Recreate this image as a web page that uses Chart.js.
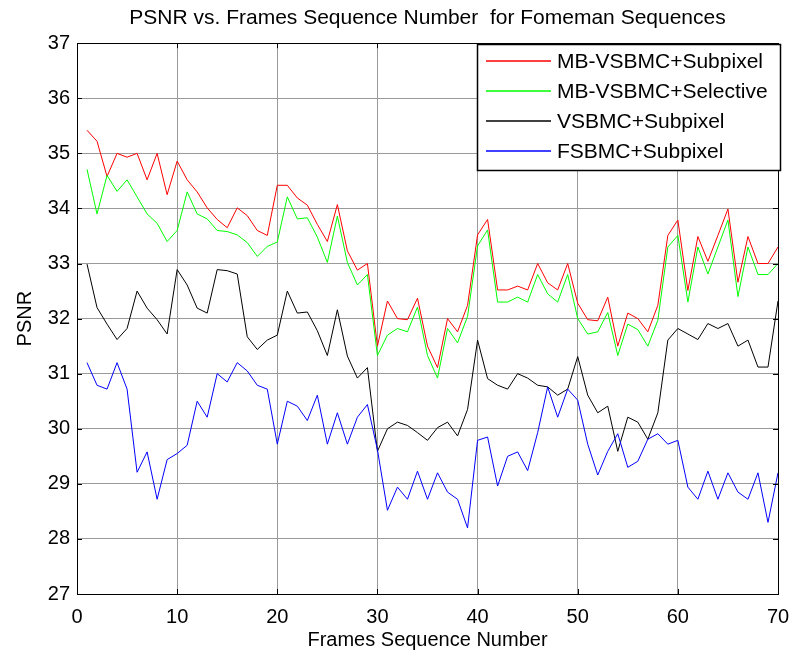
<!DOCTYPE html>
<html>
<head>
<meta charset="utf-8">
<title>PSNR vs. Frames Sequence Number</title>
<script src="https://cdn.jsdelivr.net/npm/chart.js@4.4.1/dist/chart.umd.min.js"></script>
<style>
    html, body { margin: 0; padding: 0; background: #fff; }
    #wrap { width: 794px; height: 656px; }
</style>
</head>
<body>
<div id="wrap"><canvas id="psnrChart" width="794" height="656"></canvas></div>
<script>
const frames = Array.from({ length: 70 }, (_, i) => i + 1);

const mbvsbmcSubpixel = [
    35.42, 35.22, 34.58, 35.00, 34.93, 35.00, 34.52, 35.00, 34.25, 34.86,
    34.52, 34.30, 34.01, 33.80, 33.65, 34.01, 33.87, 33.60, 33.51, 34.42,
    34.42, 34.19, 34.06, 33.71, 33.40, 34.07, 33.23, 32.88, 33.00, 31.50,
    32.32, 32.00, 31.98, 32.37, 31.50, 31.11, 32.00, 31.76, 32.24, 33.52,
    33.80, 32.52, 32.52, 32.59, 32.52, 33.00, 32.65, 32.52, 33.00, 32.28,
    31.98, 31.96, 32.39, 31.50, 32.10, 32.00, 31.76, 32.24, 33.51, 33.79,
    32.51, 33.49, 33.04, 33.51, 33.99, 32.66, 33.49, 33.00, 33.00, 33.30
];
const mbvsbmcSelective = [
    34.71, 33.90, 34.60, 34.31, 34.52, 34.21, 33.90, 33.73, 33.40, 33.60,
    34.30, 33.90, 33.81, 33.60, 33.58, 33.52, 33.38, 33.13, 33.31, 33.39,
    34.21, 33.81, 33.83, 33.48, 33.02, 33.86, 33.02, 32.61, 32.80, 31.33,
    31.70, 31.82, 31.76, 32.21, 31.33, 30.92, 31.82, 31.56, 32.04, 33.32,
    33.61, 32.30, 32.30, 32.39, 32.30, 32.80, 32.45, 32.30, 32.80, 32.00,
    31.72, 31.76, 32.11, 31.33, 31.90, 31.80, 31.50, 31.97, 33.30, 33.51,
    32.30, 33.30, 32.81, 33.30, 33.79, 32.40, 33.30, 32.80, 32.80, 33.00
];
const vsbmcSubpixel = [
    32.99, 32.20, 31.90, 31.62, 31.82, 32.50, 32.19, 31.98, 31.72, 32.89,
    32.61, 32.19, 32.10, 32.89, 32.87, 32.81, 31.67, 31.44, 31.61, 31.70,
    32.50, 32.10, 32.12, 31.78, 31.33, 32.16, 31.32, 30.92, 31.11, 29.59,
    30.00, 30.12, 30.06, 29.93, 29.79, 30.02, 30.12, 29.87, 30.35, 31.61,
    30.91, 30.79, 30.72, 31.00, 30.92, 30.79, 30.76, 30.61, 30.72, 31.31,
    30.61, 30.29, 30.41, 29.59, 30.21, 30.12, 29.81, 30.29, 31.61, 31.82,
    31.72, 31.62, 31.91, 31.82, 31.91, 31.50, 31.61, 31.12, 31.12, 32.32
];
const fsbmcSubpixel = [
    31.20, 30.79, 30.72, 31.20, 30.72, 29.21, 29.58, 28.72, 29.44, 29.55,
    29.70, 30.50, 30.21, 31.00, 30.85, 31.20, 31.05, 30.79, 30.72, 29.72,
    30.50, 30.41, 30.15, 30.61, 29.72, 30.29, 29.72, 30.21, 30.44, 29.62,
    28.52, 28.94, 28.72, 29.23, 28.72, 29.20, 28.85, 28.72, 28.20, 29.79,
    29.85, 28.96, 29.50, 29.58, 29.24, 29.93, 30.76, 30.21, 30.72, 30.52,
    29.72, 29.16, 29.59, 29.91, 29.30, 29.41, 29.81, 29.91, 29.72, 29.79,
    28.94, 28.72, 29.23, 28.72, 29.20, 28.85, 28.72, 29.20, 28.30, 29.20
];

const seriesNames = ['MB-VSBMC+Subpixel', 'MB-VSBMC+Selective', 'VSBMC+Subpixel', 'FSBMC+Subpixel'];
const seriesColors = ['#ff0000', '#00ff00', '#000000', '#0000ff'];
const seriesValues = [mbvsbmcSubpixel, mbvsbmcSelective, vsbmcSubpixel, fsbmcSubpixel];

const xTicks = [0, 10, 20, 30, 40, 50, 60, 70];
const yTicks = [27, 28, 29, 30, 31, 32, 33, 34, 35, 36, 37];

const FONT = 'Arial, "Liberation Sans", sans-serif';

// axes box with inward ticks on all four sides, plus the boxed legend top-right
const boxPlugin = {
    id: 'boxLegend',
    afterDraw(chart) {
        const ctx = chart.ctx;
        const a = chart.chartArea;
        const xs = chart.scales.x, ys = chart.scales.y;
        ctx.save();
        ctx.strokeStyle = '#000';
        ctx.lineWidth = 1;
        ctx.strokeRect(Math.round(a.left) + 0.5, Math.round(a.top) + 0.5,
            Math.round(a.right - a.left), Math.round(a.bottom - a.top));

        const tl = 5;
        ctx.beginPath();
        xTicks.forEach(t => {
            const px = Math.round(xs.getPixelForValue(t)) + 0.5;
            ctx.moveTo(px, a.bottom); ctx.lineTo(px, a.bottom - tl);
            ctx.moveTo(px, a.top); ctx.lineTo(px, a.top + tl);
        });
        yTicks.forEach(t => {
            const py = Math.round(ys.getPixelForValue(t)) + 0.5;
            ctx.moveTo(a.left, py); ctx.lineTo(a.left + tl, py);
            ctx.moveTo(a.right, py); ctx.lineTo(a.right - tl, py);
        });
        ctx.stroke();

        // legend
        const w = 303, h = 126;
        const lx = Math.round(a.right + 2 - w), ly = Math.round(a.top + 1);
        ctx.fillStyle = '#fff';
        ctx.fillRect(lx, ly, w, h);
        ctx.lineWidth = 1.5;
        ctx.strokeStyle = '#000';
        ctx.strokeRect(lx + 0.5, ly + 0.5, w, h);

        ctx.font = '21px ' + FONT;
        ctx.textBaseline = 'middle';
        ctx.textAlign = 'left';
        seriesNames.forEach((name, i) => {
            const y = Math.round(ly + 17 + i * 30);
            ctx.strokeStyle = seriesColors[i];
            ctx.lineWidth = 1.3;
            ctx.beginPath();
            ctx.moveTo(lx + 9, y);
            ctx.lineTo(lx + 74, y);
            ctx.stroke();
            ctx.fillStyle = '#000';
            ctx.fillText(name, lx + 80, y + 1);
        });
        ctx.restore();
    }
};

const datasets = seriesNames.map((name, i) => ({
    label: name,
    data: seriesValues[i].map((v, j) => ({ x: frames[j], y: v })),
    borderColor: seriesColors[i],
    backgroundColor: seriesColors[i],
    borderWidth: 1,
    pointRadius: 0,
    tension: 0,
    fill: false,
    order: seriesNames.length - i
}));

new Chart(document.getElementById('psnrChart'), {
    type: 'line',
    data: { datasets },
    options: {
        responsive: false,
        animation: false,
        layout: { padding: { left: 0, right: 16, top: 0, bottom: 0 } },
        plugins: {
            legend: { display: false },
            tooltip: { enabled: false },
            title: {
                display: true,
                fullSize: false,
                text: 'PSNR vs. Frames Sequence Number  for Fomeman Sequences',
                color: '#000',
                font: { family: FONT, size: 21, weight: 'normal' },
                padding: { top: 6, bottom: 12 }
            }
        },
        scales: {
            x: {
                type: 'linear',
                min: 0,
                max: 70,
                afterBuildTicks: s => { s.ticks = xTicks.map(v => ({ value: v })); },
                afterFit: s => { s.height = 62; s.paddingLeft = 0; s.paddingRight = 0; },
                grid: { color: '#9a9a9a', lineWidth: 1, drawTicks: false },
                border: { display: true, color: '#000', width: 1 },
                ticks: { color: '#000', padding: 11, font: { family: FONT, size: 20 }, maxRotation: 0 },
                title: {
                    display: true,
                    text: 'Frames Sequence Number',
                    color: '#000',
                    font: { family: FONT, size: 20 },
                    padding: { top: 0, bottom: 4 }
                }
            },
            y: {
                min: 27,
                max: 37,
                afterBuildTicks: s => { s.ticks = yTicks.map(v => ({ value: v })); },
                afterFit: s => { s.width = 77; },
                grid: { color: '#9a9a9a', lineWidth: 1, drawTicks: false },
                border: { display: true, color: '#000', width: 1 },
                ticks: { color: '#000', padding: 7, font: { family: FONT, size: 20 } },
                title: {
                    display: true,
                    text: 'PSNR',
                    color: '#000',
                    font: { family: FONT, size: 20 },
                    padding: { top: 13, bottom: 0 }
                }
            }
        }
    },
    plugins: [boxPlugin]
});
</script>
</body>
</html>
